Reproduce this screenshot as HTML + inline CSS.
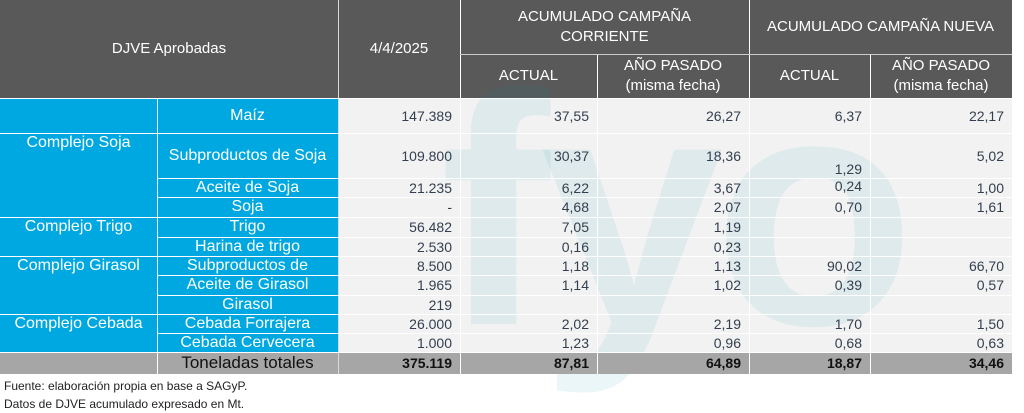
<!DOCTYPE html><html><head><meta charset="utf-8"><style>
body{margin:0;width:1024px;height:413px;background:#fff;position:relative;overflow:hidden;font-family:"Liberation Sans",sans-serif}
.c{position:absolute;box-sizing:border-box;display:flex;align-items:center;white-space:nowrap}
.h{background:#595959;color:#fff;font-size:15px;justify-content:center;text-align:center;line-height:20px}
.b{background:#00a8e1;color:#fff;font-size:16px;justify-content:center}
.d{background:#f2f2f2;color:#333f4f;font-size:14px;justify-content:flex-end;padding-right:8px}
.vl{position:absolute;width:1px;background:#fff}
.hl{position:absolute;height:1px;background:#fff}
.wm{position:absolute;left:440px;top:20px;font-size:330px;font-weight:bold;color:rgba(0,140,170,0.08);letter-spacing:-10px;font-family:"Liberation Sans",sans-serif}
.f{position:absolute;left:4px;font-size:12px;color:#222}
.dt{position:absolute;left:0;top:0;width:1024px;height:413px;font-size:14px;color:#333f4f}
</style></head><body>
<div class="c h" style="left:0;top:0;width:338px;height:98px">DJVE Aprobadas</div>
<div class="c h" style="left:338px;top:0;width:122px;height:98px">4/4/2025</div>
<div class="c h" style="left:460px;top:0;width:289px;height:54px">ACUMULADO CAMPAÑA<br>CORRIENTE</div>
<div class="c h" style="left:749px;top:0;width:263px;height:54px">ACUMULADO CAMPAÑA NUEVA</div>
<div class="c h" style="left:460px;top:54px;width:137px;height:44px">ACTUAL</div>
<div class="c h" style="left:597px;top:54px;width:152px;height:44px">AÑO PASADO<br>(misma fecha)</div>
<div class="c h" style="left:749px;top:54px;width:121px;height:44px">ACTUAL</div>
<div class="c h" style="left:870px;top:54px;width:142px;height:44px">AÑO PASADO<br>(misma fecha)</div>

<div class="c b" style="left:0;top:98px;width:157px;height:254px"></div>
<div class="c b" style="left:157px;top:98px;width:181px;height:254px"></div>
<div class="c d" style="left:338px;top:98px;width:674px;height:254px"></div>
<div class="wm">fyo</div>

<div class="c b" style="left:0;top:133px;width:157px;height:20px;background:none">Complejo Soja</div>
<div class="c b" style="left:0;top:217px;width:157px;height:20px;background:none">Complejo Trigo</div>
<div class="c b" style="left:0;top:256px;width:157px;height:20px;background:none">Complejo Girasol</div>
<div class="c b" style="left:0;top:314px;width:157px;height:20px;background:none">Complejo Cebada</div>

<div class="c b" style="left:157px;top:98px;width:181px;height:35px;background:none">Maíz</div>
<div class="c b" style="left:157px;top:133px;width:181px;height:45px;background:none">Subproductos de Soja</div>
<div class="c b" style="left:157px;top:178px;width:181px;height:19px;background:none">Aceite de Soja</div>
<div class="c b" style="left:157px;top:197px;width:181px;height:20px;background:none">Soja</div>
<div class="c b" style="left:157px;top:217px;width:181px;height:20px;background:none">Trigo</div>
<div class="c b" style="left:157px;top:237px;width:181px;height:19px;background:none">Harina de trigo</div>
<div class="c b" style="left:157px;top:256px;width:181px;height:19px;background:none">Subproductos de</div>
<div class="c b" style="left:157px;top:275px;width:181px;height:20px;background:none">Aceite de Girasol</div>
<div class="c b" style="left:157px;top:295px;width:181px;height:19px;background:none">Girasol</div>
<div class="c b" style="left:157px;top:314px;width:181px;height:19px;background:none">Cebada Forrajera</div>
<div class="c b" style="left:157px;top:333px;width:181px;height:19px;background:none">Cebada Cervecera</div>

<div class="dt">
<div class="c" style="left:338px;top:98px;width:114px;height:35px;justify-content:flex-end">147.389</div>
<div class="c" style="left:460px;top:98px;width:129px;height:35px;justify-content:flex-end">37,55</div>
<div class="c" style="left:597px;top:98px;width:144px;height:35px;justify-content:flex-end">26,27</div>
<div class="c" style="left:749px;top:98px;width:113px;height:35px;justify-content:flex-end">6,37</div>
<div class="c" style="left:870px;top:98px;width:134px;height:35px;justify-content:flex-end">22,17</div>

<div class="c" style="left:338px;top:133px;width:114px;height:45px;justify-content:flex-end">109.800</div>
<div class="c" style="left:460px;top:133px;width:129px;height:45px;justify-content:flex-end">30,37</div>
<div class="c" style="left:597px;top:133px;width:144px;height:45px;justify-content:flex-end">18,36</div>
<div class="c" style="left:749px;top:160px;width:113px;height:18px;justify-content:flex-end">1,29</div>
<div class="c" style="left:870px;top:133px;width:134px;height:45px;justify-content:flex-end">5,02</div>

<div class="c" style="left:338px;top:178px;width:114px;height:19px;justify-content:flex-end">21.235</div>
<div class="c" style="left:460px;top:178px;width:129px;height:19px;justify-content:flex-end">6,22</div>
<div class="c" style="left:597px;top:178px;width:144px;height:19px;justify-content:flex-end">3,67</div>
<div class="c" style="left:749px;top:176px;width:113px;height:19px;justify-content:flex-end">0,24</div>
<div class="c" style="left:870px;top:178px;width:134px;height:19px;justify-content:flex-end">1,00</div>

<div class="c" style="left:338px;top:197px;width:114px;height:20px;justify-content:flex-end">-</div>
<div class="c" style="left:460px;top:197px;width:129px;height:20px;justify-content:flex-end">4,68</div>
<div class="c" style="left:597px;top:197px;width:144px;height:20px;justify-content:flex-end">2,07</div>
<div class="c" style="left:749px;top:197px;width:113px;height:20px;justify-content:flex-end">0,70</div>
<div class="c" style="left:870px;top:197px;width:134px;height:20px;justify-content:flex-end">1,61</div>

<div class="c" style="left:338px;top:217px;width:114px;height:20px;justify-content:flex-end">56.482</div>
<div class="c" style="left:460px;top:217px;width:129px;height:20px;justify-content:flex-end">7,05</div>
<div class="c" style="left:597px;top:217px;width:144px;height:20px;justify-content:flex-end">1,19</div>

<div class="c" style="left:338px;top:237px;width:114px;height:19px;justify-content:flex-end">2.530</div>
<div class="c" style="left:460px;top:237px;width:129px;height:19px;justify-content:flex-end">0,16</div>
<div class="c" style="left:597px;top:237px;width:144px;height:19px;justify-content:flex-end">0,23</div>

<div class="c" style="left:338px;top:256px;width:114px;height:19px;justify-content:flex-end">8.500</div>
<div class="c" style="left:460px;top:256px;width:129px;height:19px;justify-content:flex-end">1,18</div>
<div class="c" style="left:597px;top:256px;width:144px;height:19px;justify-content:flex-end">1,13</div>
<div class="c" style="left:749px;top:256px;width:113px;height:19px;justify-content:flex-end">90,02</div>
<div class="c" style="left:870px;top:256px;width:134px;height:19px;justify-content:flex-end">66,70</div>

<div class="c" style="left:338px;top:275px;width:114px;height:20px;justify-content:flex-end">1.965</div>
<div class="c" style="left:460px;top:275px;width:129px;height:20px;justify-content:flex-end">1,14</div>
<div class="c" style="left:597px;top:275px;width:144px;height:20px;justify-content:flex-end">1,02</div>
<div class="c" style="left:749px;top:275px;width:113px;height:20px;justify-content:flex-end">0,39</div>
<div class="c" style="left:870px;top:275px;width:134px;height:20px;justify-content:flex-end">0,57</div>

<div class="c" style="left:338px;top:295px;width:114px;height:19px;justify-content:flex-end">219</div>

<div class="c" style="left:338px;top:314px;width:114px;height:19px;justify-content:flex-end">26.000</div>
<div class="c" style="left:460px;top:314px;width:129px;height:19px;justify-content:flex-end">2,02</div>
<div class="c" style="left:597px;top:314px;width:144px;height:19px;justify-content:flex-end">2,19</div>
<div class="c" style="left:749px;top:314px;width:113px;height:19px;justify-content:flex-end">1,70</div>
<div class="c" style="left:870px;top:314px;width:134px;height:19px;justify-content:flex-end">1,50</div>

<div class="c" style="left:338px;top:333px;width:114px;height:19px;justify-content:flex-end">1.000</div>
<div class="c" style="left:460px;top:333px;width:129px;height:19px;justify-content:flex-end">1,23</div>
<div class="c" style="left:597px;top:333px;width:144px;height:19px;justify-content:flex-end">0,96</div>
<div class="c" style="left:749px;top:333px;width:113px;height:19px;justify-content:flex-end">0,68</div>
<div class="c" style="left:870px;top:333px;width:134px;height:19px;justify-content:flex-end">0,63</div>
</div>

<div class="c" style="left:0;top:352px;width:1012px;height:22px;background:#a6a6a6"></div>
<div class="c" style="left:157px;top:352px;width:181px;height:22px;justify-content:center;font-size:17px;color:#111">Toneladas totales</div>
<div style="position:absolute;left:0;top:0;font-weight:bold;font-size:14px;color:#111">
<div class="c" style="left:338px;top:352px;width:114px;height:22px;justify-content:flex-end">375.119</div>
<div class="c" style="left:460px;top:352px;width:129px;height:22px;justify-content:flex-end">87,81</div>
<div class="c" style="left:597px;top:352px;width:144px;height:22px;justify-content:flex-end">64,89</div>
<div class="c" style="left:749px;top:352px;width:113px;height:22px;justify-content:flex-end">18,87</div>
<div class="c" style="left:870px;top:352px;width:134px;height:22px;justify-content:flex-end">34,46</div>
</div>

<div class="vl" style="left:157px;top:98px;height:276px"></div>
<div class="vl" style="left:338px;top:0;height:374px;background:#d9d9d9"></div>
<div class="vl" style="left:460px;top:0;height:374px"></div>
<div class="vl" style="left:597px;top:54px;height:320px"></div>
<div class="vl" style="left:749px;top:0;height:374px"></div>
<div class="vl" style="left:870px;top:54px;height:320px"></div>
<div class="hl" style="left:460px;top:54px;width:552px;background:#ccc"></div>
<div class="hl" style="left:0;top:98px;width:1012px"></div>
<div class="hl" style="left:0;top:133px;width:1012px"></div>
<div class="hl" style="left:157px;top:178px;width:855px"></div>
<div class="hl" style="left:157px;top:197px;width:855px"></div>
<div class="hl" style="left:0;top:217px;width:1012px"></div>
<div class="hl" style="left:157px;top:237px;width:855px"></div>
<div class="hl" style="left:0;top:256px;width:1012px"></div>
<div class="hl" style="left:157px;top:275px;width:855px"></div>
<div class="hl" style="left:157px;top:295px;width:855px"></div>
<div class="hl" style="left:0;top:314px;width:1012px"></div>
<div class="hl" style="left:157px;top:333px;width:855px"></div>
<div class="hl" style="left:0;top:352px;width:1012px"></div>

<div class="f" style="top:379px">Fuente: elaboración propia en base a SAGyP.</div>
<div class="f" style="top:397px">Datos de DJVE acumulado expresado en Mt.</div>
</body></html>
